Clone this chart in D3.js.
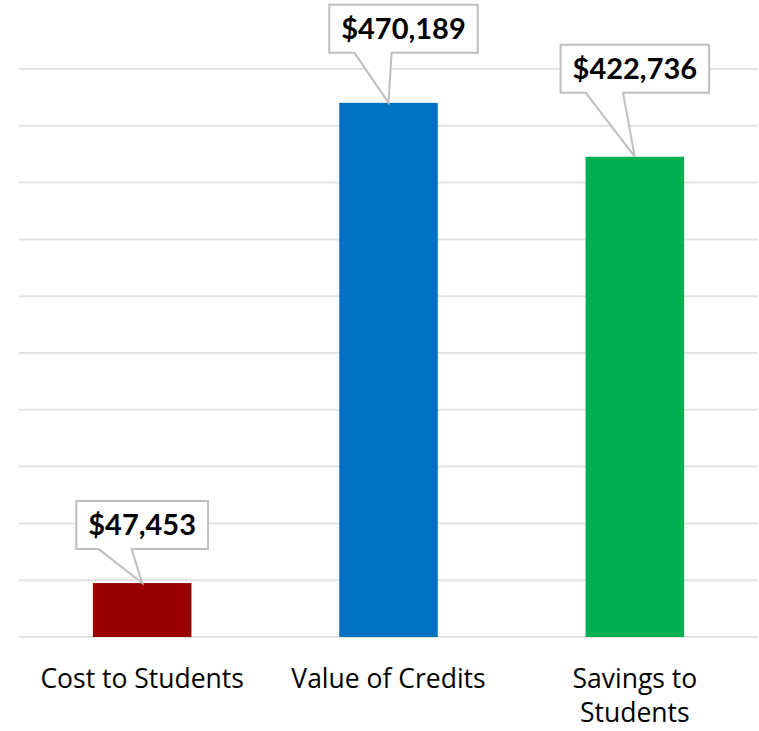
<!DOCTYPE html>
<html>
<head>
<meta charset="utf-8">
<script src="https://cdn.jsdelivr.net/npm/d3@7"></script>
<style>
  html, body { margin: 0; padding: 0; background: #fff; }
  svg { display: block; }
  text { fill: #000; }
</style>
</head>
<body>
<svg id="chart" width="759" height="731"></svg>
<script>
// Chart data
const categories = ["Cost to Students", "Value of Credits", "Savings to Students"];
const values = [47453, 470189, 422736];
const barColors = ["#990000", "#0070C0", "#00B050"];
const gridTicks = d3.range(0, 500001, 50000);
// Callout placement relative to each bar top: [dx of box centre, gap below box]
const calloutOffsets = [[0, 34], [15, 50], [0, 64]];

const W = 759, H = 731;
const margin = { left: 19, right: 1, top: 69, bottom: 94 };

const svg = d3.select("#chart");

const x = d3.scaleBand()
  .domain(categories)
  .range([margin.left, W - margin.right])
  .paddingInner(0.6)
  .paddingOuter(0.3);

const y = d3.scaleLinear()
  .domain([0, 500000])
  .range([H - margin.bottom, margin.top]);

// Horizontal gridlines
svg.append("g")
  .selectAll("line")
  .data(gridTicks)
  .join("line")
  .attr("x1", margin.left)
  .attr("x2", W - margin.right)
  .attr("y1", d => y(d))
  .attr("y2", d => y(d))
  .attr("stroke", "#e3e3e3")
  .attr("stroke-width", 2);

// Bars
svg.append("g")
  .selectAll("rect")
  .data(values)
  .join("rect")
  .attr("x", (d, i) => x(categories[i]))
  .attr("width", x.bandwidth())
  .attr("y", d => y(d))
  .attr("height", d => y(0) - y(d))
  .attr("fill", (d, i) => barColors[i]);

// Category axis labels, wrapped onto a second line when too wide
const xAxis = svg.append("g")
  .attr("transform", `translate(0,${y(0)})`)
  .call(d3.axisBottom(x).tickSize(0).tickPadding(0));
xAxis.select(".domain").remove();
xAxis.attr("font-family", "'Open Sans', sans-serif").attr("font-size", 26.5);
xAxis.selectAll("text")
  .attr("fill", "#000")
  .attr("dy", null)
  .attr("y", 51)
  .each(function () {
    const t = d3.select(this);
    const words = t.text().split(/\s+/);
    const maxW = 225;
    t.text(null);
    let line = [];
    let tspan = t.append("tspan").attr("x", 0);
    words.forEach(w => {
      line.push(w);
      tspan.text(line.join(" "));
      if (tspan.node().getComputedTextLength() > maxW && line.length > 1) {
        line.pop();
        tspan.text(line.join(" "));
        line = [w];
        tspan = t.append("tspan").attr("x", 0).attr("dy", 34).text(w);
      }
    });
  });

// Value callouts
const fmt = v => "$" + d3.format(",")(v);
const callouts = svg.append("g");
values.forEach((v, i) => {
  const cx = x(categories[i]) + x.bandwidth() / 2;
  const tipY = y(v);
  const [dx, gap] = calloutOffsets[i];
  const g = callouts.append("g");
  const label = g.append("text")
    .attr("font-family", "Lato, sans-serif")
    .attr("font-weight", 700)
    .attr("font-size", 29)
    .attr("text-anchor", "middle")
    .text(fmt(v));
  const tw = label.node().getComputedTextLength();
  const bw = tw + 24, bh = 48;
  const bx = cx + dx - bw / 2;
  const by = tipY - gap - bh;
  const b1 = bx + bw * 0.17, b2 = bx + bw * 0.42;
  const path = [
    [bx, by], [bx + bw, by], [bx + bw, by + bh],
    [b2, by + bh], [cx, tipY], [b1, by + bh], [bx, by + bh]
  ];
  g.insert("path", "text")
    .attr("d", d3.line()(path) + "Z")
    .attr("fill", "#fff")
    .attr("stroke", "#bfbfbf")
    .attr("stroke-width", 2)
    .attr("stroke-linejoin", "miter");
  label.attr("x", bx + bw / 2).attr("y", by + bh / 2 + 10);
});
</script>
</body>
</html>
